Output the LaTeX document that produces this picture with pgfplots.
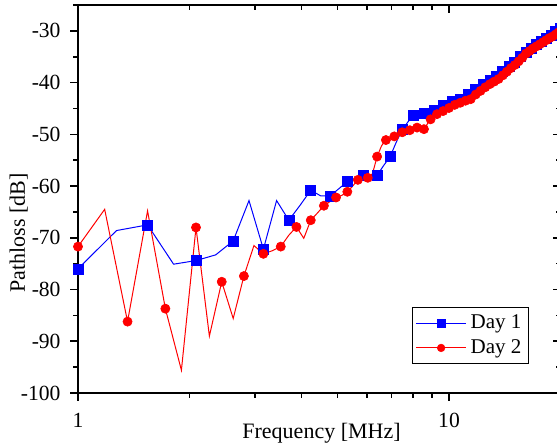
\documentclass[border=0pt]{standalone}
\usepackage{fontspec}
\setmainfont{Liberation Serif}
\usepackage{pgfplots}
\pgfplotsset{compat=1.18}
\usepackage{pgfplotstable}

\pgfplotstableread{
f dB
1.00 -76.0
1.27 -68.6
1.54 -67.5
1.81 -75.1
2.08 -74.4
2.35 -73.3
2.62 -70.6
2.89 -62.8
3.16 -72.2
3.43 -62.8
3.70 -66.6
3.97 -63.7
4.24 -60.8
4.51 -61.9
4.78 -61.9
5.05 -60.5
5.32 -59.1
5.59 -58.5
5.86 -57.9
6.13 -58.0
6.40 -57.9
6.67 -56.0
6.94 -54.3
7.21 -51.5
7.48 -49.1
7.75 -47.6
8.02 -46.4
8.29 -46.2
8.56 -45.9
8.83 -45.6
9.10 -45.3
9.37 -44.8
9.64 -44.4
9.91 -44.0
10.18 -43.6
10.45 -43.4
10.72 -43.2
10.99 -42.8
11.26 -42.3
11.53 -41.8
11.80 -41.3
12.07 -40.8
12.34 -40.4
12.61 -40.0
12.88 -39.6
13.15 -39.2
13.42 -38.8
13.69 -38.4
13.96 -37.9
14.23 -37.4
14.50 -36.9
14.77 -36.4
15.04 -36.0
15.31 -35.5
15.58 -35.0
15.85 -34.5
16.12 -34.1
16.39 -33.7
16.66 -33.3
16.93 -33.0
17.20 -32.6
17.47 -32.3
17.74 -32.0
18.01 -31.7
18.28 -31.4
18.55 -31.1
18.82 -30.8
19.09 -30.5
19.36 -30.1
19.63 -29.8
19.90 -29.5
}\dayone

\pgfplotstableread{
f dB
1.00 -71.7
1.18 -64.5
1.36 -86.2
1.54 -64.8
1.72 -83.7
1.90 -95.6
2.08 -68.0
2.26 -89.0
2.44 -78.5
2.62 -85.6
2.80 -77.4
2.98 -71.5
3.16 -73.1
3.34 -72.5
3.52 -71.7
3.70 -69.5
3.88 -67.9
4.06 -70.1
4.24 -66.6
4.42 -65.2
4.60 -63.8
4.78 -63.0
4.96 -62.2
5.14 -61.8
5.32 -61.1
5.50 -60.0
5.68 -58.8
5.86 -58.6
6.04 -58.4
6.22 -57.6
6.40 -54.3
6.58 -52.2
6.76 -51.1
6.94 -50.8
7.12 -50.4
7.30 -50.0
7.48 -49.6
7.66 -49.4
7.84 -49.2
8.02 -48.9
8.20 -48.7
8.38 -48.6
8.56 -49.0
8.74 -48.0
8.92 -47.1
9.10 -46.6
9.28 -46.1
9.46 -45.8
9.64 -45.5
9.82 -45.2
10.00 -44.9
10.18 -44.6
10.36 -44.3
10.54 -44.1
10.72 -43.9
10.90 -43.7
11.08 -43.5
11.26 -43.3
11.44 -43.2
11.62 -42.7
11.80 -42.3
11.98 -41.9
12.16 -41.6
12.34 -41.2
12.52 -40.9
12.70 -40.6
12.88 -40.3
13.06 -40.0
13.24 -39.8
13.42 -39.5
13.60 -39.3
13.78 -39.0
13.96 -38.6
14.14 -38.2
14.32 -37.9
14.50 -37.6
14.68 -37.2
14.86 -36.9
15.04 -36.6
15.22 -36.2
15.40 -35.9
15.58 -35.5
15.76 -35.2
15.94 -34.8
16.12 -34.4
16.30 -34.1
16.48 -33.9
16.66 -33.6
16.84 -33.4
17.02 -33.2
17.20 -33.0
17.38 -32.8
17.56 -32.6
17.74 -32.4
17.92 -32.2
18.10 -32.0
18.28 -31.8
18.46 -31.6
18.64 -31.4
18.82 -31.3
19.00 -31.1
19.18 -30.9
19.36 -30.7
19.54 -30.5
19.72 -30.3
19.90 -30.1
}\daytwo

\begin{document}
\begin{tikzpicture}
\useasboundingbox (-39pt,-27.5pt) rectangle (239.5pt,196.5pt);
\begin{axis}[xmode=log, scale only axis, width=241.35pt, height=194pt,
    xmin=1, xmax=20, ymin=-100, ymax=-25,
    xtick={1,10}, minor xtick={2,3,4,5,6,7,8,9,20},
    ytick={-100,-90,...,-30}, minor ytick={-95,-85,...,-25},
    axis line style={-, line width=1pt, black},
    major tick length=4pt, minor tick length=2.5pt,
    tick style={black, line width=0.8pt},
    axis x line*=top, axis y line*=right, tick align=inside,
    xticklabels={}, yticklabels={}]
\addplot[draw=none] coordinates {(2,-60)};
\end{axis}
\begin{axis}[xmode=log, scale only axis, width=241.35pt, height=194pt,
    xmin=1, xmax=20, ymin=-100, ymax=-25,
    xtick={1,10}, minor xtick={2,3,4,5,6,7,8,9,20},
    ytick={-100,-90,...,-30}, minor ytick={-95,-85,...,-25},
    axis line style={-, line width=1pt, black},
    major tick length=4pt, minor tick length=2.5pt,
    tick style={black, line width=0.8pt},
  axis x line*=bottom, axis y line*=left, tick align=outside,
  xticklabels={1,10},
  /pgf/number format/assume math mode=true,
  tick label style={font=\fontsize{10.8}{12.5}\selectfont},
  yticklabel style={xshift=-1.2pt},
  xticklabel style={yshift=-2.5pt},
  xlabel={Frequency [MHz]}, ylabel={Pathloss [dB]},
  label style={font=\fontsize{11}{13}\selectfont},
  xlabel style={at={(axis description cs:0.5045,0)}, anchor=base, yshift=-22.65pt},
  ylabel style={at={(axis description cs:-0.1098,0.412)}, anchor=base},
  legend style={at={(0.934,0.075)}, anchor=south east, draw=black, line width=0.5pt,
    font=\fontsize{10.5}{12.5}\selectfont, inner sep=1.5pt, row sep=0pt},
  legend cell align=left,
  legend image code/.code={\draw[mark repeat=2, mark phase=2, mark size=1.9pt] plot coordinates {(0pt,0pt) (12.5pt,0pt) (25pt,0pt)};},
]
\addplot[blue, line width=0.5pt, mark=square*, mark size=2.5pt, mark repeat=2,
  mark options={solid, fill=blue, draw=blue, line width=0.3pt}] table[x=f, y=dB] {\dayone};
\addlegendentry{Day 1}
\addplot[red, line width=0.5pt, mark=*, mark size=2.3pt, mark repeat=2,
  mark options={solid, fill=red, draw=red, line width=0.3pt}] table[x=f, y=dB] {\daytwo};
\addlegendentry{Day 2}
\end{axis}
\end{tikzpicture}
\end{document}
